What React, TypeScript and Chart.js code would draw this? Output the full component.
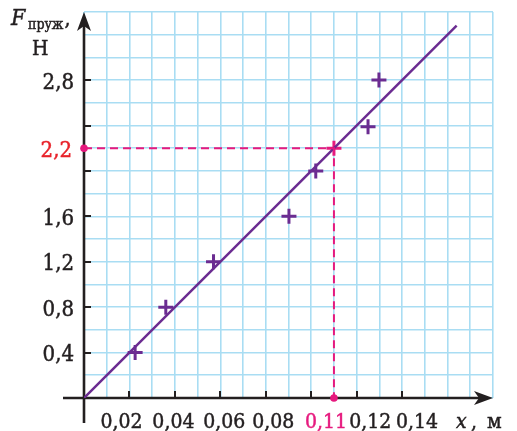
import { useEffect, useRef } from 'react';
import { Chart, registerables } from 'chart.js';

Chart.register(...registerables);

// ---- data ----
const measuredX = [0.0225, 0.036, 0.057, 0.0902, 0.102, 0.125, 0.1298];
const measuredF = [0.4, 0.8, 1.2, 1.6, 2.0, 2.39, 2.8];
const fitX = [0, 0.164];
const fitF = [0, 3.28];
const markedX = 0.11;
const markedF = 2.2;

const xTickValues = [0.02, 0.04, 0.06, 0.08, 0.1, 0.12, 0.14];
const xLabelValues = [0.02, 0.04, 0.06, 0.08, 0.12, 0.14];
const xLabelTexts = ['0,02', '0,04', '0,06', '0,08', '0,12', '0,14'];
const yTickValues = [0.4, 0.8, 1.2, 1.6, 2.0, 2.4, 2.8];
const yLabelValues = [0.4, 0.8, 1.2, 1.6, 2.8];
const yLabelTexts = ['0,4', '0,8', '1,2', '1,6', '2,8'];
const markedXLabel = '0,11';
const markedFLabel = '2,2';

const xMax = 0.18;
const yMax = 3.4;
const xGridCount = 18;
const yGridCount = 17;

// ---- styles ----
const GRID = '#a9ddf3';
const AXIS = '#231f20';
const PURPLE = '#6b2c91';
const MAGENTA = '#e6197e';
const RED = '#e8232b';
const FONT = '"DejaVu Serif", serif';
// horizontal label shifts (px) relative to their tick, as in the layout of the original
const xLabelShift = [-8, -1.5, 4, 7.5, 13.5, 15];
const markedXLabelShift = -8;

function setFont(ctx: any, spec: string) {
  ctx.font = spec;
  try {
    ctx.fontStretch = 'condensed';
  } catch (e) {
    /* ignore */
  }
}

function text(ctx: any, s: string, x: number, y: number, color: string) {
  ctx.fillStyle = color;
  ctx.strokeStyle = color;
  ctx.lineWidth = 0.45;
  ctx.fillText(s, x, y);
  ctx.strokeText(s, x, y);
}

const axesPlugin = {
  id: 'drawnAxes',
  beforeDatasetsDraw(chart: any) {
    const { ctx } = chart;
    const xs = chart.scales.x;
    const ys = chart.scales.y;
    const x0 = xs.getPixelForValue(0);
    const y0 = ys.getPixelForValue(0);
    const xEnd = xs.right;
    const yEnd = ys.top;
    ctx.save();
    ctx.strokeStyle = AXIS;
    ctx.fillStyle = AXIS;
    ctx.lineWidth = 2.6;
    ctx.lineCap = 'butt';
    // x axis
    ctx.beginPath();
    ctx.moveTo(x0 - 21, y0);
    ctx.lineTo(xEnd - 10, y0);
    ctx.stroke();
    ctx.beginPath();
    ctx.moveTo(xEnd, y0);
    ctx.lineTo(xEnd - 19, y0 - 7);
    ctx.lineTo(xEnd - 14, y0);
    ctx.lineTo(xEnd - 19, y0 + 7);
    ctx.closePath();
    ctx.fill();
    // y axis
    ctx.beginPath();
    ctx.moveTo(x0, y0 + 25);
    ctx.lineTo(x0, yEnd + 10);
    ctx.stroke();
    ctx.beginPath();
    ctx.moveTo(x0, yEnd);
    ctx.lineTo(x0 - 7, yEnd + 19);
    ctx.lineTo(x0, yEnd + 14);
    ctx.lineTo(x0 + 7, yEnd + 19);
    ctx.closePath();
    ctx.fill();
    // tick marks
    ctx.lineWidth = 2;
    ctx.beginPath();
    for (const v of xTickValues) {
      const px = Math.round(xs.getPixelForValue(v));
      ctx.moveTo(px, y0);
      ctx.lineTo(px, y0 - 7);
    }
    for (const v of yTickValues) {
      const py = Math.round(ys.getPixelForValue(v));
      ctx.moveTo(x0, py);
      ctx.lineTo(x0 + 7, py);
    }
    ctx.stroke();
    ctx.restore();
  },
  afterDraw(chart: any) {
    const { ctx } = chart;
    const xs = chart.scales.x;
    const ys = chart.scales.y;
    const x0 = xs.getPixelForValue(0);
    const y0 = ys.getPixelForValue(0);
    ctx.save();
    // x labels
    setFont(ctx, `21px ${FONT}`);
    ctx.textAlign = 'center';
    ctx.textBaseline = 'alphabetic';
    xLabelValues.forEach((v, i) => {
      text(ctx, xLabelTexts[i], xs.getPixelForValue(v) + xLabelShift[i], y0 + 30, AXIS);
    });
    text(ctx, markedXLabel, xs.getPixelForValue(markedX) + markedXLabelShift, y0 + 30, MAGENTA);
    // y labels
    setFont(ctx, `22px ${FONT}`);
    ctx.textAlign = 'right';
    yLabelValues.forEach((v, i) => {
      text(ctx, yLabelTexts[i], x0 - 10, ys.getPixelForValue(v) + 8.5, AXIS);
    });
    text(ctx, markedFLabel, x0 - 12, ys.getPixelForValue(markedF) + 8.5, RED);
    // axis titles
    ctx.textAlign = 'left';
    setFont(ctx, `italic 23px ${FONT}`);
    text(ctx, 'F', 11, 25, AXIS);
    setFont(ctx, `14px ${FONT}`);
    text(ctx, 'пруж', 28, 29, AXIS);
    const subW = ctx.measureText('пруж').width;
    setFont(ctx, `21px ${FONT}`);
    text(ctx, ',', 28 + subW + 1, 25, AXIS);
    text(ctx, 'Н', 32, 55, AXIS);
    setFont(ctx, `italic 21px ${FONT}`);
    text(ctx, 'x', 456, y0 + 30, AXIS);
    setFont(ctx, `21px ${FONT}`);
    text(ctx, ',', 471, y0 + 30, AXIS);
    text(ctx, 'м', 487, y0 + 30, AXIS);
    ctx.restore();
  },
};

export default function App() {
  const ref = useRef<HTMLCanvasElement | null>(null);
  useEffect(() => {
    if (!ref.current) return;
    const measured = measuredX.map((x, i) => ({ x, y: measuredF[i] }));
    const fit = fitX.map((x, i) => ({ x, y: fitF[i] }));
    const guide = [
      { x: 0, y: markedF },
      { x: markedX, y: markedF },
      { x: markedX, y: 0 },
    ];
    const dots = [
      { x: 0, y: markedF },
      { x: markedX, y: 0 },
    ];
    const chart = new Chart(ref.current, {
      type: 'scatter',
      data: {
        datasets: [
          {
            data: guide,
            showLine: true,
            borderColor: MAGENTA,
            borderWidth: 2,
            borderDash: [8, 5],
            pointRadius: 0,
            fill: false,
            clip: false as any,
          },
          {
            data: fit,
            showLine: true,
            borderColor: PURPLE,
            borderWidth: 2.5,
            pointRadius: 0,
            fill: false,
          },
          {
            data: measured,
            pointStyle: 'cross',
            pointRadius: 7.5,
            borderColor: PURPLE,
            borderWidth: 3,
            showLine: false,
          },
          {
            data: [{ x: markedX, y: markedF }],
            pointStyle: 'cross',
            pointRadius: 7.5,
            borderColor: MAGENTA,
            borderWidth: 3,
            showLine: false,
          },
          {
            data: dots,
            pointStyle: 'circle',
            pointRadius: 3.8,
            backgroundColor: MAGENTA,
            borderColor: MAGENTA,
            borderWidth: 0,
            showLine: false,
            clip: false as any,
          },
        ],
      },
      options: {
        responsive: false,
        animation: false,
        devicePixelRatio: 1,
        layout: { padding: { left: 84, right: 24, top: 12, bottom: 33 } },
        plugins: { legend: { display: false }, tooltip: { enabled: false } },
        events: [],
        scales: {
          x: {
            type: 'linear',
            min: 0,
            max: xMax,
            border: { display: false },
            grid: { color: GRID, lineWidth: 1.6, drawTicks: false },
            ticks: { display: false },
            afterBuildTicks: (s: any) => {
              const t = [];
              for (let i = 0; i <= xGridCount; i++) t.push({ value: (xMax * i) / xGridCount });
              s.ticks = t;
            },
          },
          y: {
            type: 'linear',
            min: 0,
            max: yMax,
            border: { display: false },
            grid: { color: GRID, lineWidth: 1.6, drawTicks: false },
            ticks: { display: false },
            afterBuildTicks: (s: any) => {
              const t = [];
              for (let i = 0; i <= yGridCount; i++) t.push({ value: (yMax * i) / yGridCount });
              s.ticks = t;
            },
          },
        },
      },
      plugins: [axesPlugin],
    });
    return () => chart.destroy();
  }, []);
  return (
    <div style={{ position: 'absolute', left: 0, top: 0, width: 517, height: 431, background: '#fff' }}>
      <canvas ref={ref} width={517} height={431} style={{ display: 'block' }} />
    </div>
  );
}
